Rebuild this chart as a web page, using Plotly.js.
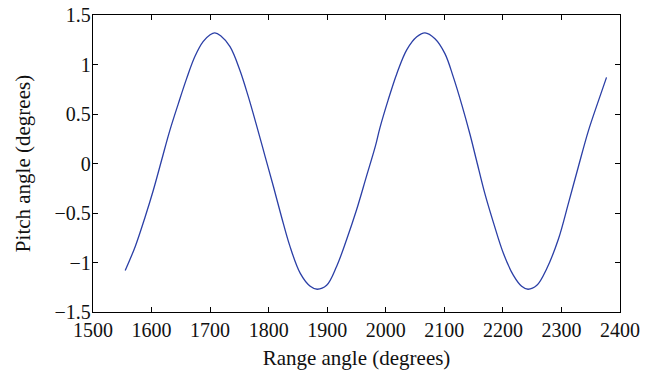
<!DOCTYPE html>
<html>
<head>
<meta charset="utf-8">
<script src="https://cdn.plot.ly/plotly-3.0.1.min.js"></script>
<style>html,body{margin:0;padding:0;background:#fff;}#chart{width:650px;height:374px;}</style>
</head>
<body>
<div id="chart"></div>
<script>
// Range angle (degrees)
const rangeAngle = [1555,1572,1589,1603,1617,1631,1646,1660,1674,1688,1700,1708,1718,1734,1751,1765,1780,1794,1808,1822,1836,1854,1871,1883,1899,1916,1933,1950,1967,1982,1990,2004,2019,2036,2053,2067,2084,2101,2115,2130,2144,2155,2169,2184,2201,2218,2232,2243,2258,2275,2295,2312,2329,2346,2363,2377];
// Pitch angle (degrees)
const pitchAngle = [-1.08,-0.84,-0.54,-0.27,0.03,0.33,0.61,0.86,1.08,1.23,1.30,1.32,1.29,1.18,0.94,0.68,0.37,0.07,-0.23,-0.54,-0.83,-1.11,-1.24,-1.27,-1.23,-1.04,-0.77,-0.47,-0.13,0.17,0.36,0.64,0.91,1.15,1.28,1.32,1.26,1.11,0.88,0.59,0.29,0.03,-0.30,-0.60,-0.91,-1.13,-1.24,-1.27,-1.23,-1.06,-0.76,-0.40,-0.03,0.33,0.63,0.87];

const xTicks = [1500,1600,1700,1800,1900,2000,2100,2200,2300,2400];
const yTicks = [-1.5,-1,-0.5,0,0.5,1,1.5];
const yTickText = ['\u22121.5','\u22121','\u22120.5','0','0.5','1','1.5'];
const xTitle = 'Range angle (degrees)';
const yTitle = 'Pitch angle (degrees)';

const fontFam = '"Liberation Serif","DejaVu Serif",serif';

const trace = {
  x: rangeAngle, y: pitchAngle, type: 'scatter', mode: 'lines',
  line: {color: '#2b3fa6', width: 1.3, shape: 'spline', smoothing: 1.0},
  hoverinfo: 'skip'
};

const axisCommon = {
  showline: true, linecolor: '#000', linewidth: 1.2, mirror: 'ticks',
  ticks: 'inside', ticklen: 5, tickcolor: '#000', tickwidth: 1,
  showgrid: false, zeroline: false,
  tickfont: {family: fontFam, size: 20, color: '#111'}
};

const layout = {
  width: 650, height: 374,
  margin: {l: 93, r: 30, t: 15, b: 62},
  paper_bgcolor: '#fff', plot_bgcolor: '#fff',
  showlegend: false,
  font: {family: fontFam, color: '#111'},
  xaxis: Object.assign({}, axisCommon, {
    range: [1500, 2400], tickvals: xTicks, ticktext: xTicks.map(String),
    title: {text: xTitle, font: {family: fontFam, size: 21, color: '#111'}, standoff: 10}
  }),
  yaxis: Object.assign({}, axisCommon, {
    range: [-1.5, 1.5], tickvals: yTicks, ticktext: yTickText,
    ticklabelstandoff: -3,
    title: {text: yTitle, font: {family: fontFam, size: 21, color: '#111'}, standoff: 18}
  })
};

Plotly.newPlot('chart', [trace], layout, {staticPlot: true, displayModeBar: false});
</script>
</body>
</html>
